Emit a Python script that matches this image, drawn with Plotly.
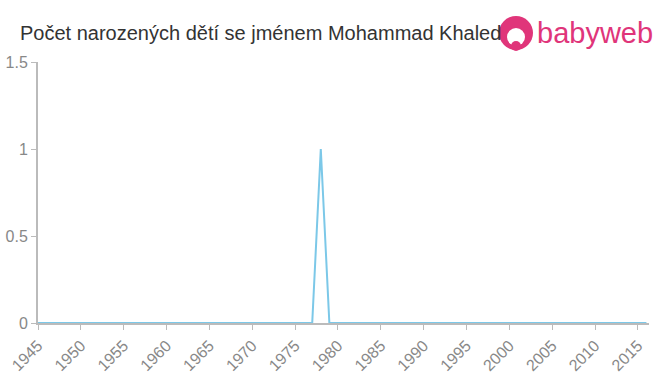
import plotly.graph_objects as go

years = list(range(1945, 2017))
counts = [0] * len(years)
counts[years.index(1978)] = 1

y_ticks = [0, 0.5, 1, 1.5]
y_labels = ["0", "0.5", "1", "1.5"]
x_ticks = list(range(1945, 2016, 5))

title_text = "Počet narozených dětí se jménem Mohammad Khaled"

fig = go.Figure()
fig.add_trace(go.Scatter(x=years, y=counts, mode="lines",
                         line=dict(color="#7cc8e8", width=2), hoverinfo="x+y"))

axis_color = "#bbbbbb"
fig.update_layout(
    width=660, height=375,
    margin=dict(l=38, r=11, t=62, b=52),
    paper_bgcolor="white", plot_bgcolor="white",
    showlegend=False,
    font=dict(family="Liberation Sans, Arial, sans-serif", color="#888888"),
    xaxis=dict(range=[1945, 2016.3], tickvals=x_ticks, ticktext=[str(v) for v in x_ticks],
               tickangle=-45, ticks="outside", ticklen=5, tickcolor=axis_color,
               showline=True, linecolor=axis_color, linewidth=2, showgrid=False,
               zeroline=False, automargin=False,
               tickfont=dict(size=16, color="#888888")),
    yaxis=dict(range=[0, 1.5], tickvals=y_ticks, ticktext=y_labels,
               ticks="outside", ticklen=5, tickcolor=axis_color,
               showline=True, linecolor=axis_color, linewidth=2, showgrid=False,
               zeroline=False, automargin=False,
               tickfont=dict(size=16, color="#888888")),
)

fig.add_annotation(text=title_text, xref="paper", yref="paper",
                   x=(18-38)/611, y=1 + (62-33)/261, xanchor="left", yanchor="middle",
                   showarrow=False, font=dict(size=20, color="#333333",
                                              family="Liberation Sans, Arial, sans-serif"))

# babyweb logo
pink = "#e0357a"
fig.add_shape(type="circle", xref="paper", yref="paper",
              x0=(499-38)/611, x1=(533-38)/611,
              y0=1 + (62-50)/261, y1=1 + (62-16)/261,
              fillcolor=pink, line=dict(width=0))
fig.add_shape(type="circle", xref="paper", yref="paper",
              x0=(507-38)/611, x1=(525-38)/611,
              y0=1 + (62-46)/261, y1=1 + (62-28)/261,
              fillcolor="white", line=dict(width=0))
fig.add_shape(type="circle", xref="paper", yref="paper",
              x0=(511-38)/611, x1=(521-38)/611,
              y0=1 + (62-51)/261, y1=1 + (62-41)/261,
              fillcolor=pink, line=dict(width=0))
fig.add_annotation(text="babyweb", xref="paper", yref="paper",
                   x=(655-38)/611, y=1 + (62-33)/261, xanchor="right", yanchor="middle",
                   showarrow=False, font=dict(size=29, color=pink,
                                              family="Liberation Sans, Arial, sans-serif"))

fig.write_html("out.html")
